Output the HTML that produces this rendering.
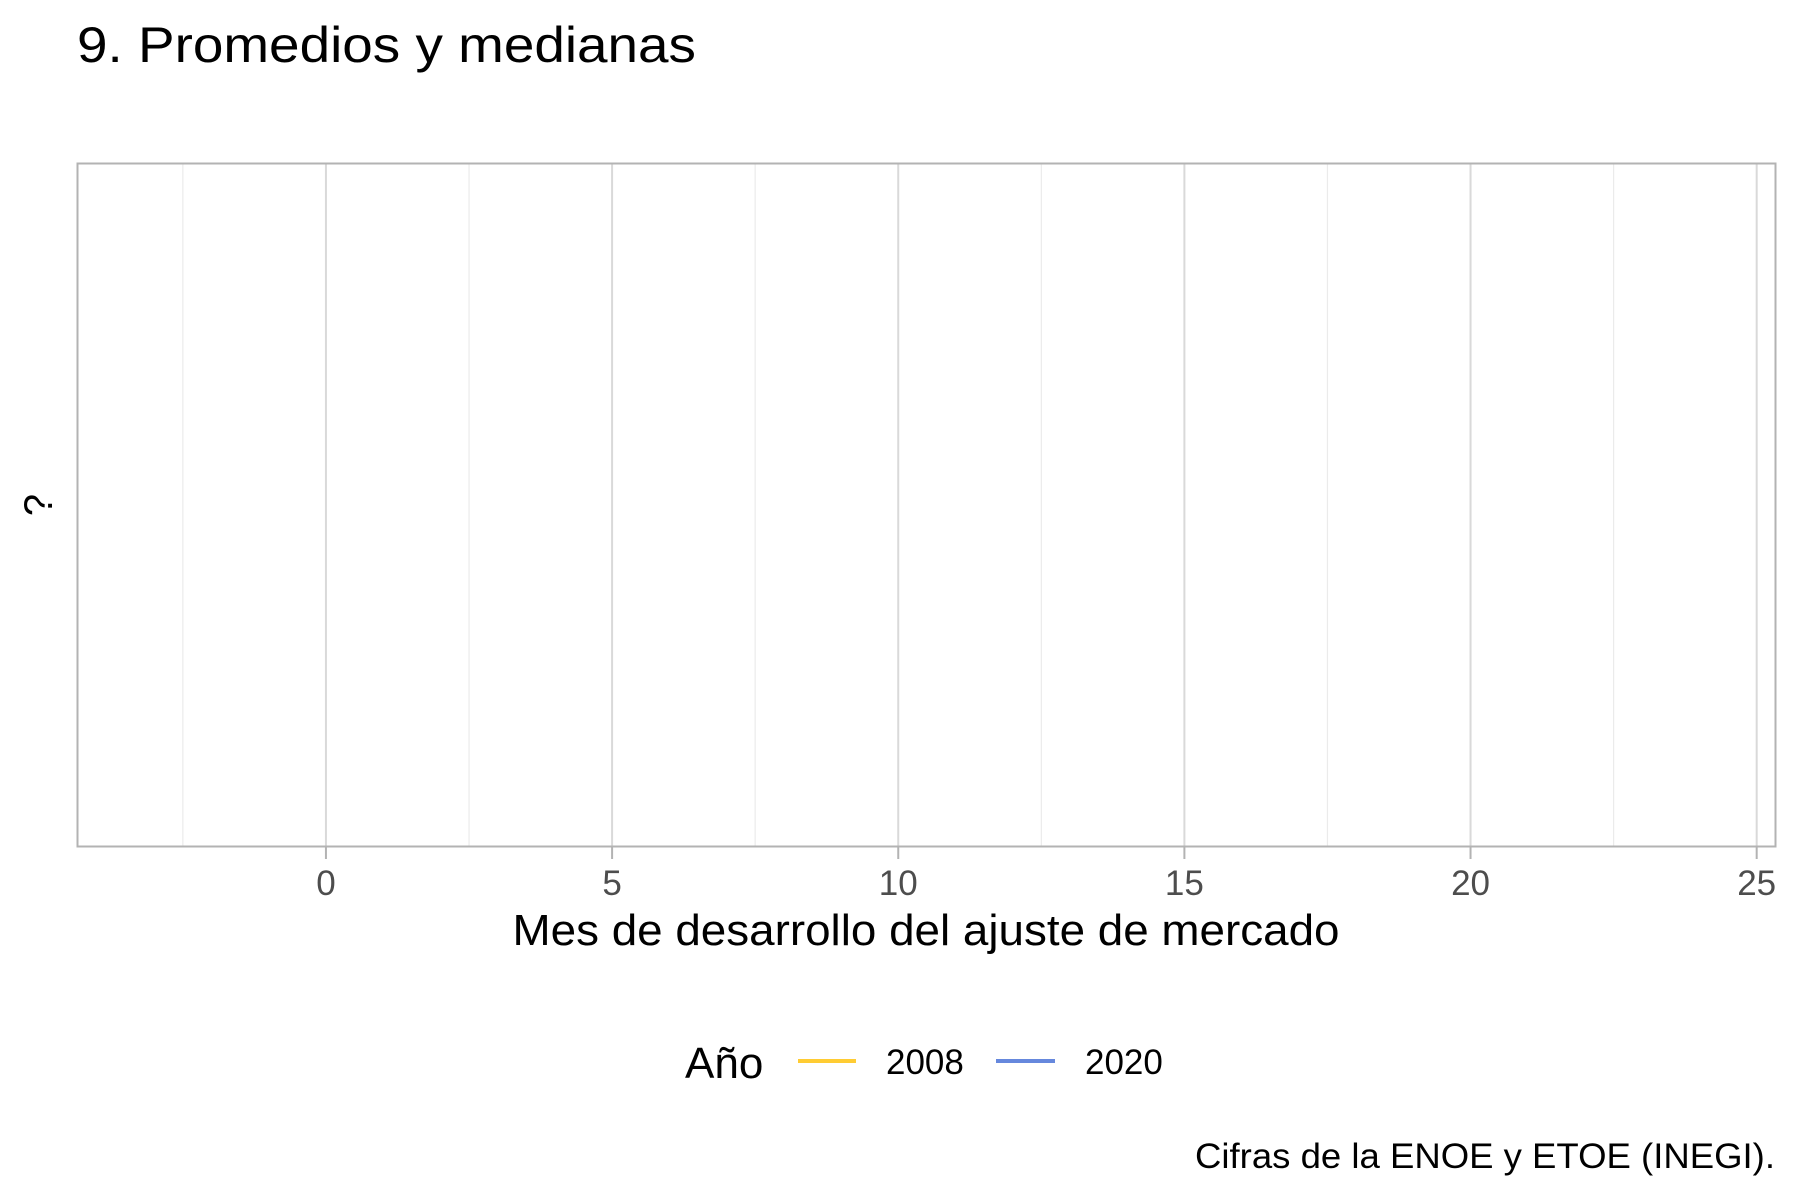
<!DOCTYPE html>
<html><head><meta charset="utf-8"><style>
html,body{margin:0;padding:0;background:#fff;}
svg{display:block;font-family:"Liberation Sans",Arial,sans-serif;}
</style></head><body>
<svg id="chart" width="1800" height="1200" viewBox="0 0 1800 1200">
<rect width="1800" height="1200" fill="#fff"/>
<text x="77" y="62" font-size="50" fill="#000" textLength="619" lengthAdjust="spacingAndGlyphs">9. Promedios y medianas</text>
<g id="grid"></g>
<rect x="77.5" y="163.5" width="1698" height="683" fill="none" stroke="#b3b3b3" stroke-width="2"/>
<g id="xaxis"></g>
<text x="926" y="945" font-size="44" text-anchor="middle" fill="#000" textLength="827" lengthAdjust="spacingAndGlyphs">Mes de desarrollo del ajuste de mercado</text>
<text transform="translate(52,505) rotate(-90)" font-size="40" text-anchor="middle" fill="#000">?</text>
<g>
<text x="685" y="1078" font-size="44" fill="#000">Año</text>
<g>
<line x1="798" y1="1061" x2="856" y2="1061" stroke="#FFCC33" stroke-width="4"/>
<text x="886" y="1074" font-size="35" fill="#000">2008</text></g>
<g>
<line x1="996" y1="1061" x2="1055" y2="1061" stroke="#6688DD" stroke-width="4"/>
<text x="1085" y="1074" font-size="35" fill="#000">2020</text></g>
</g>
<text x="1775" y="1168" font-size="35" text-anchor="end" fill="#000" textLength="580" lengthAdjust="spacingAndGlyphs">Cifras de la ENOE y ETOE (INEGI).</text>
</svg>
<script>
const xTicks = [0, 5, 10, 15, 20, 25];
const xMinor = [-2.5, 2.5, 7.5, 12.5, 17.5, 22.5];
const xDomain = [-4.35, 25.32];
const series2008 = [];
const series2020 = [];
const NS = "http://www.w3.org/2000/svg";
const x = v => 77 + (v - xDomain[0]) / (xDomain[1] - xDomain[0]) * 1698;
const grid = document.getElementById('grid');
const xaxis = document.getElementById('xaxis');
xMinor.forEach(v => {
  const l = document.createElementNS(NS, 'line');
  l.setAttribute('x1', x(v)); l.setAttribute('x2', x(v));
  l.setAttribute('y1', 163); l.setAttribute('y2', 847);
  l.setAttribute('stroke', '#ebebeb'); l.setAttribute('stroke-width', '1.2');
  
  
  grid.appendChild(l);
});
xTicks.forEach(v => {
  const l = document.createElementNS(NS, 'line');
  l.setAttribute('x1', x(v)); l.setAttribute('x2', x(v));
  l.setAttribute('y1', 163); l.setAttribute('y2', 847);
  l.setAttribute('stroke', '#d9d9d9'); l.setAttribute('stroke-width', '2');
  
  
  grid.appendChild(l);
  const t = document.createElementNS(NS, 'line');
  t.setAttribute('x1', x(v)); t.setAttribute('x2', x(v));
  t.setAttribute('y1', 847); t.setAttribute('y2', 859);
  t.setAttribute('stroke', '#b3b3b3'); t.setAttribute('stroke-width', '2');
  
  
  xaxis.appendChild(t);
  const s = document.createElementNS(NS, 'text');
  s.setAttribute('x', x(v)); s.setAttribute('y', 895);
  s.setAttribute('font-size', '35'); s.setAttribute('text-anchor', 'middle');
  s.setAttribute('fill', '#4d4d4d');
  s.textContent = v;
  
  
  xaxis.appendChild(s);
});
</script>
</body></html>
